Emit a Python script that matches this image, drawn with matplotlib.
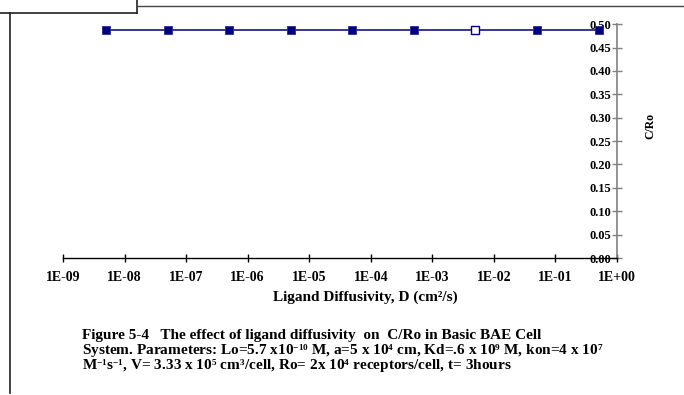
import matplotlib
matplotlib.use("Agg")
import matplotlib.pyplot as plt
from matplotlib.lines import Line2D
from matplotlib.ticker import FixedLocator, FixedFormatter

# smaller, lower superscripts in the caption (closer to the document look)
try:
    import matplotlib._mathtext as _mt
    _mt.SHRINK_FACTOR = 0.6
    _mt.FontConstantsBase.sup1 = 0.45
except Exception:
    pass

plt.rcParams['font.family'] = ['Liberation Serif', 'DejaVu Serif']
plt.rcParams['font.weight'] = 'bold'
plt.rcParams['mathtext.fontset'] = 'custom'
plt.rcParams['mathtext.rm'] = 'Liberation Serif:bold'
plt.rcParams['mathtext.default'] = 'rm'

# data
diffusivity = [5e-9, 5e-8, 5e-7, 5e-6, 5e-5, 5e-4, 5e-3, 5e-2, 5e-1]
c_ro = [0.487, 0.487, 0.487, 0.487, 0.487, 0.487, 0.487, 0.487, 0.487]
hollow_idx = [6]

x_ticks = [1e-9, 1e-8, 1e-7, 1e-6, 1e-5, 1e-4, 1e-3, 1e-2, 1e-1, 1e0]
x_labels = ['1E-09', '1E-08', '1E-07', '1E-06', '1E-05', '1E-04',
            '1E-03', '1E-02', '1E-01', '1E+00']
y_ticks = [0.0, 0.05, 0.10, 0.15, 0.20, 0.25, 0.30, 0.35, 0.40, 0.45, 0.50]

navy = '#000080'

fig = plt.figure(figsize=(6.84, 3.95), dpi=100)
ax = fig.add_axes([0.0921, 0.3468, 0.81, 0.592])

ax.plot(diffusivity, c_ro, color=navy, lw=1.1, zorder=3, clip_on=False)
filled = [i for i in range(len(diffusivity)) if i not in hollow_idx]
ax.plot([diffusivity[i] for i in filled], [c_ro[i] for i in filled], 's',
        color=navy, mec='#2a2a9a', mew=0.6, ms=6.3, zorder=4, clip_on=False)
ax.plot([diffusivity[i] for i in hollow_idx], [c_ro[i] for i in hollow_idx], 's',
        mfc='white', mec=navy, mew=1.0, ms=6.3, zorder=4, clip_on=False)

ax.set_xscale('log')
ax.set_xlim(1e-9, 1)
ax.set_ylim(0, 0.5)
ax.xaxis.set_major_locator(FixedLocator(x_ticks))
ax.xaxis.set_major_formatter(FixedFormatter(x_labels))
ax.xaxis.set_minor_locator(FixedLocator([]))
ax.set_yticks(y_ticks)
ax.set_yticklabels(['%.2f' % v for v in y_ticks])

ax.spines['top'].set_visible(False)
ax.spines['right'].set_visible(False)
ax.spines['left'].set_position(('axes', 1.0))
ax.spines['left'].set_color('#808080')
ax.spines['left'].set_linewidth(1.2)
ax.spines['bottom'].set_linewidth(1.0)
ax.set_zorder(2)

ax.tick_params(axis='x', direction='inout', length=6, width=1, labelsize=10, pad=6)
ax.tick_params(axis='y', direction='inout', length=7, width=1, color='#808080',
               labelsize=9, pad=1)

fig.text(365 / 684, 1 - 297 / 395, 'Ligand Diffusivity, D (cm²/s)', fontsize=11,
         fontweight='bold', ha='center', va='center')
fig.text(650 / 684, 1 - 126 / 395, 'C/Ro', rotation=90, fontsize=8.5, fontweight='bold',
         ha='center', va='center')

# caption below the chart
caption = [r'Figure 5-4   The effect of ligand diffusivity  on  C/Ro in Basic BAE Cell',
           r'System. Parameters: Lo=5.7 x10$^{-10}$ M, a=5 x 10$^{4}$ cm, Kd=.6 x 10$^{9}$ M, kon=4 x 10$^{7}$',
           r'M$^{-1}$s$^{-1}$, V= 3.33 x 10$^{5}$ cm$^{3}$/cell, Ro= 2x 10$^{4}$ receptors/cell, t= 3hours']
for k, line in enumerate(caption):
    fig.text(82 / 684, 1 - (338.5 + 15.5 * k) / 395, line, fontsize=11, fontweight='bold',
             ha='left', va='baseline')

# page frame lines around the chart
fig.add_artist(Line2D([0, 137 / 684], [1 - 13 / 395, 1 - 13 / 395], color='#222222', lw=1.2))
fig.add_artist(Line2D([137 / 684, 137 / 684], [1, 1 - 13 / 395], color='#222222', lw=1.2))
fig.add_artist(Line2D([137 / 684, 1], [1 - 6 / 395, 1 - 6 / 395], color='#444444', lw=1.0))
fig.add_artist(Line2D([10 / 684, 10 / 684], [1 - 13 / 395, 2 / 395], color='#222222', lw=1.2))

fig.savefig('out.png', dpi=100)
